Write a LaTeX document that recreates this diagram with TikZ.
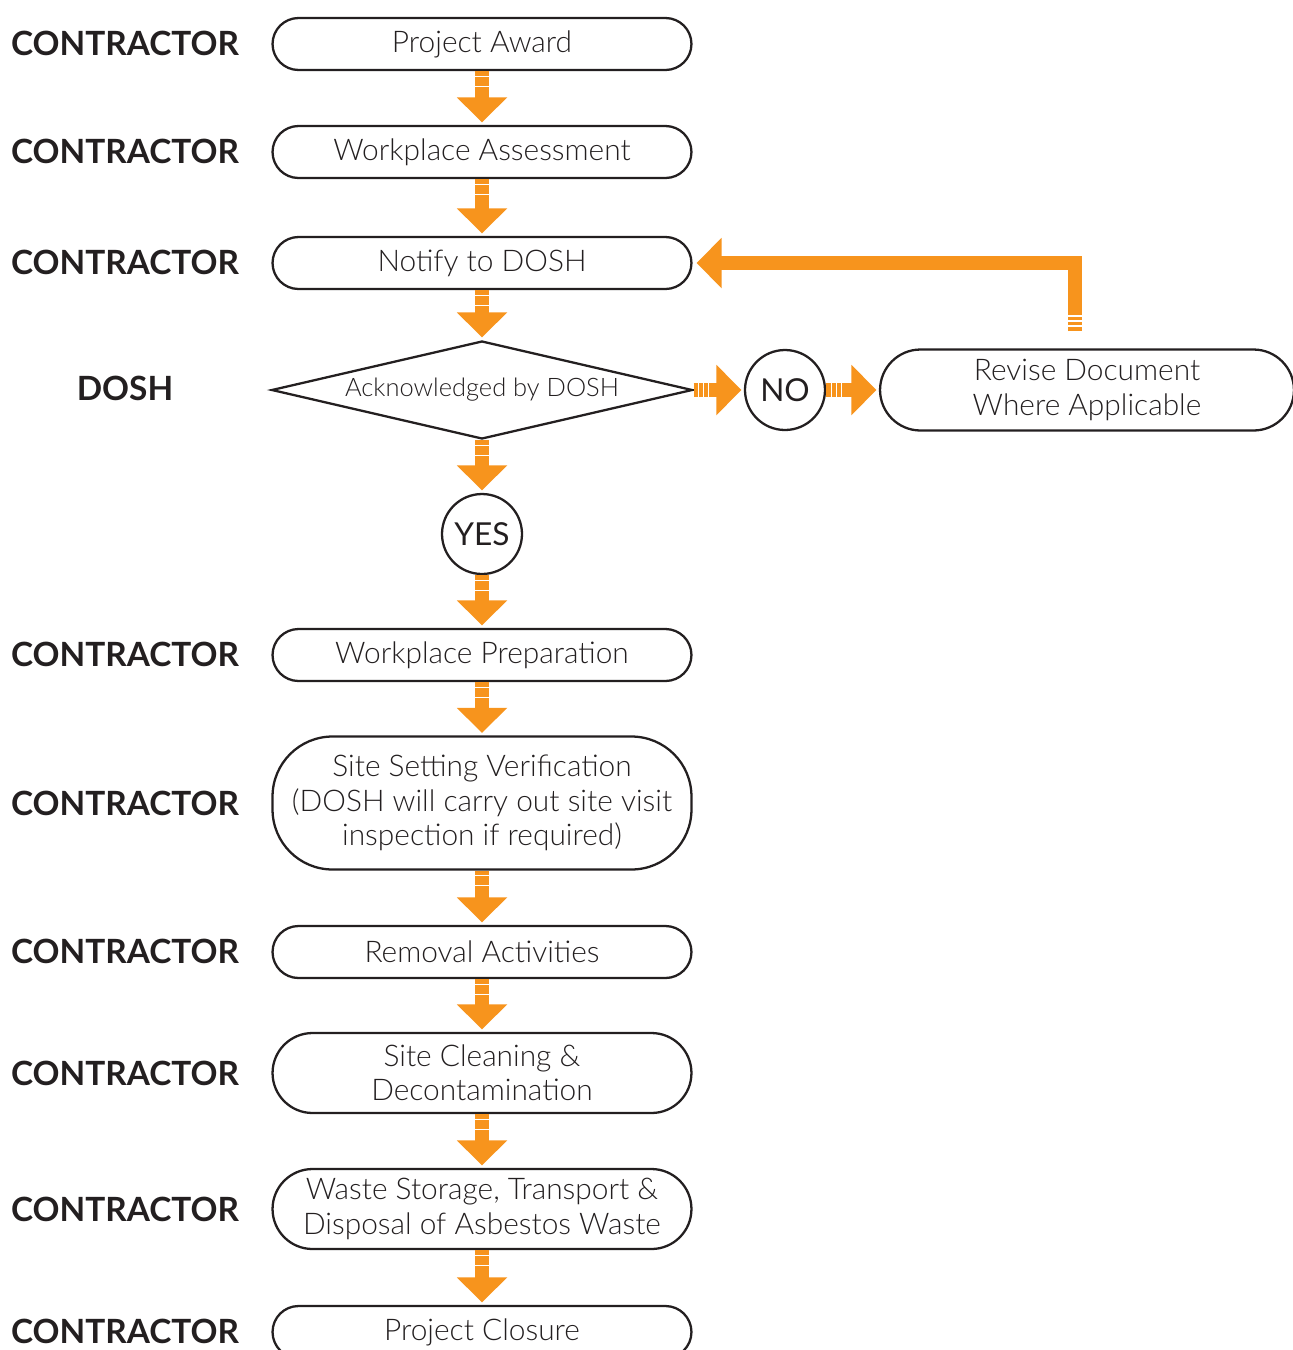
\documentclass[tikz,border=0pt]{standalone}
\usepackage{fontspec}
\setmainfont{Lato}
\newfontfamily\lightfont{Lato Light}
\usetikzlibrary{arrows.meta}
\usetikzlibrary{shapes.geometric}
\usetikzlibrary{shapes.misc}
\usetikzlibrary{decorations.markings}
\definecolor{flowOrange}{HTML}{F7941D}
\definecolor{lineGrey}{HTML}{231F20}

\begin{document}
\begin{tikzpicture}[x=0.02cm, y=-0.02cm,
        role_style/.style={font=\bfseries\fontsize{19}{21}\selectfont, text=lineGrey},
        step_style/.style={rounded rectangle, draw=lineGrey, line width=1.3pt, inner sep=0pt,
            minimum width=8.38cm, minimum height=1.04cm, align=center, text=lineGrey,
            font=\lightfont\fontsize{17}{19.5}\selectfont},
        tall_step_style/.style={rectangle, rounded corners=1.2cm, draw=lineGrey, line width=1.3pt, inner sep=0pt,
            minimum width=8.38cm, minimum height=2.66cm, align=center, text=lineGrey,
            font=\lightfont\fontsize{17}{19.5}\selectfont},
        check_style/.style={diamond, aspect=4.3, draw=lineGrey, line width=1.3pt, inner sep=0pt,
            minimum width=8.42cm, minimum height=1.96cm, text=lineGrey, font=\lightfont\fontsize{14.5}{16}\selectfont},
        answer_style/.style={circle, draw=lineGrey, line width=1.3pt, inner sep=0pt,
            minimum size=1.6cm, text=lineGrey, font=\fontsize{18}{20}\selectfont},
        stripe/.style={draw=white, line width=0.7pt, -, shorten >=0pt},
        flow_style/.style={draw=flowOrange, line width=0.27cm, line join=miter,
            -{Triangle[width=0.98cm, length=0.5cm]}, shorten >=0.05cm},
        two_stripes/.style={postaction={decorate, decoration={markings,
            mark=at position 0.1cm with {\draw[stripe] (0,-0.14cm) -- (0,0.14cm);},
            mark=at position 0.3cm with {\draw[stripe] (0,-0.14cm) -- (0,0.14cm);}}}},
        three_stripes/.style={postaction={decorate, decoration={markings,
            mark=at position 0.1cm with {\draw[stripe] (0,-0.14cm) -- (0,0.14cm);},
            mark=at position 0.2cm with {\draw[stripe] (0,-0.14cm) -- (0,0.14cm);},
            mark=at position 0.3cm with {\draw[stripe] (0,-0.14cm) -- (0,0.14cm);}}}}]

        \useasboundingbox (0,0) rectangle (1293,1350);

        % who does what
        \node [role_style](r1) at (125,43) {CONTRACTOR};
        \node [role_style](r2) at (125,151) {CONTRACTOR};
        \node [role_style](r3) at (125,262) {CONTRACTOR};
        \node [role_style](r4) at (125,388) {DOSH};
        \node [role_style](r5) at (125,654) {CONTRACTOR};
        \node [role_style](r6) at (125,803) {CONTRACTOR};
        \node [role_style](r7) at (125,951) {CONTRACTOR};
        \node [role_style](r8) at (125,1073) {CONTRACTOR};
        \node [role_style](r9) at (125,1209) {CONTRACTOR};
        \node [role_style](r10) at (125,1331) {CONTRACTOR};

        % process steps
        \node [step_style](award) at (482,44) {Project Award};
        \node [step_style](assess) at (482,152) {Workplace Assessment};
        \node [step_style](notify) at (482,263) {Notify to DOSH};
        \node [check_style](ack) at (482,390) {Acknowledged by DOSH};
        \node [answer_style](yes) at (482,534) {YES};
        \node [answer_style](no) at (785,390) {NO};
        \node [step_style, minimum width=8.28cm, minimum height=1.62cm](revise) at (1087,390) {Revise Document\\Where Applicable};
        \node [step_style](prep) at (482,655) {Workplace Preparation};
        \node [tall_step_style](verify) at (482,803) {Site Setting Verification\\(DOSH will carry out site visit\\inspection if required)};
        \node [step_style](removal) at (482,952) {Removal Activities};
        \node [step_style, minimum height=1.6cm](clean) at (482,1073) {Site Cleaning \&\\Decontamination};
        \node [step_style, minimum height=1.6cm](waste) at (482,1209) {Waste Storage, Transport \&\\Disposal of Asbestos Waste};
        \node [step_style](closure) at (482,1332) {Project Closure};

        \coordinate (back) at (1075,331);

        \draw [flow_style, two_stripes] (award.south) -- (assess.north);
        \draw [flow_style, two_stripes] (assess.south) -- (notify.north);
        \draw [flow_style, two_stripes] (notify.south) -- (ack.north);
        \draw [flow_style, two_stripes] (ack.south) -- (yes.north);
        \draw [flow_style, two_stripes] (yes.south) -- (prep.north);
        \draw [flow_style, two_stripes] (prep.south) -- (verify.north);
        \draw [flow_style, two_stripes] (verify.south) -- (removal.north);
        \draw [flow_style, two_stripes] (removal.south) -- (clean.north);
        \draw [flow_style, two_stripes] (clean.south) -- (waste.north);
        \draw [flow_style, two_stripes] (waste.south) -- (closure.north);

        \draw [flow_style, three_stripes] (ack.east) -- (no.west);
        \draw [flow_style, three_stripes] (no.east) -- (revise.west);
        \draw [flow_style, three_stripes, shorten >=0.08cm] (back) |- (notify.east);

        \end{tikzpicture}
\end{document}
